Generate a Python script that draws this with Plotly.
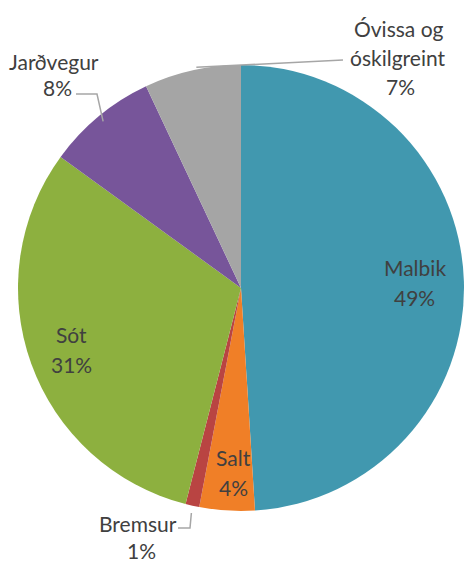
import math
import plotly.graph_objects as go

labels = ["Malbik", "Salt", "Bremsur", "Sót", "Jarðvegur", "Óvissa og óskilgreint"]
values = [49, 4, 1, 31, 8, 7]
colors = ["#4198AF", "#F07F27", "#B94442", "#8DB03F", "#77559A", "#A5A5A5"]

W, H = 466, 563
CX, CY, R = 241, 288, 223
FONT = dict(family="Lato, Calibri, sans-serif", size=21, color="#404040")
LINE = "#A6A6A6"


def P(x, y):
    return x / W, 1 - y / H


def bis(i, rf):
    tot = sum(values)
    start = sum(values[:i]) / tot
    mid = (start + values[i] / tot / 2) * 2 * math.pi
    return CX + rf * R * math.sin(mid), CY - rf * R * math.cos(mid)


fig = go.Figure(go.Pie(
    labels=labels, values=values, sort=False, direction="clockwise", rotation=0,
    marker=dict(colors=colors, line=dict(width=0)), textinfo="none", hoverinfo="label+percent",
    domain=dict(x=[(CX - R) / W, (CX + R) / W], y=[1 - (CY + R) / H, 1 - (CY - R) / H]),
    showlegend=False,
))

ann = []


def add(text, x, y):
    px, py = P(x, y)
    ann.append(dict(text=text, x=px, y=py, xref="paper", yref="paper", showarrow=False,
                    xanchor="center", yanchor="middle", font=FONT))


# inside labels
for i, rf, dx in [(0, 0.78, 0), (1, 0.83, 4), (3, 0.81, 0)]:
    x, y = bis(i, rf)
    add(labels[i], x + dx, y - 15)
    add(f"{values[i]}%", x + dx, y + 15)

# outside labels
add("Óvissa og", 398, 29)
add("óskilgreint", 397, 58)
add(f"{values[5]}%", 400, 86)
add("Jarðvegur", 54, 61)
add(f"{values[4]}%", 57, 88)
add("Bremsur", 138, 523)
add(f"{values[2]}%", 141, 550)

shapes = []


def path(pts):
    d = "M " + " L ".join(f"{P(x, y)[0]},{P(x, y)[1]}" for x, y in pts)
    shapes.append(dict(type="path", path=d, xref="paper", yref="paper",
                       line=dict(color=LINE, width=1.5)))


ex, ey = bis(5, 1.0)
path([(ex + 4, ey - 3), (343, 60)])
ex, ey = bis(4, 0.97)
path([(76, 94), (97, 94), (ex, ey)])
ex, ey = bis(2, 1.02)
path([(178, 528), (190, 528), (ex, ey + 3)])

fig.update_layout(width=W, height=H, margin=dict(l=0, r=0, t=0, b=0),
                  paper_bgcolor="white", plot_bgcolor="white",
                  annotations=ann, shapes=shapes)
fig.write_html("out.html")
